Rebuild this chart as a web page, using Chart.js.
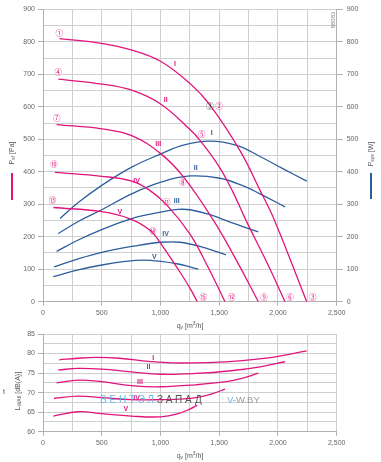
<!DOCTYPE html>
<html><head><meta charset="utf-8">
<script src="https://cdn.jsdelivr.net/npm/chart.js@4.4.0/dist/chart.umd.min.js"></script>
<style>
html,body{margin:0;padding:0;background:#fff;width:381px;height:462px;overflow:hidden;font-family:"Liberation Sans",Arial,sans-serif;}
canvas{position:absolute;left:0;}
#c1{top:0;}
#c2{top:326px;}
.t{position:absolute;color:#555;font-size:7px;line-height:8px;white-space:nowrap;}
.rot{transform:translate(-50%,-50%) rotate(-90deg);}
.ctr{transform:translate(-50%,-50%);}
sub{font-size:5px;vertical-align:-1px;}
sup{font-size:5px;vertical-align:3px;}
.bar{position:absolute;width:2px;}
</style></head><body>
<canvas id="c1" width="381" height="326" style="width:381px;height:326px"></canvas>
<canvas id="c2" width="381" height="136" style="width:381px;height:136px"></canvas>

<div class="t rot" style="left:12px;top:153px;">P<sub>sf</sub> [Pa]</div>
<div class="bar" style="left:11px;top:173px;height:27px;background:#e0157c"></div>
<div class="t rot" style="left:371px;top:154px;">P<sub>sys</sub> [W]</div>
<div class="bar" style="left:370px;top:173px;height:26px;background:#2d5f9e"></div>
<div class="t ctr" style="left:190px;top:325px;">q<sub>v</sub> [m<sup>3</sup>/h]</div>
<div class="t ctr" style="left:190px;top:455px;">q<sub>v</sub> [m<sup>3</sup>/h]</div>
<div class="t rot" style="left:18px;top:391px;">L<sub>WA6</sub> [dB(A)]</div>
<div class="t ctr" style="left:4px;top:392px;">t</div>
<div class="t rot" style="left:333px;top:20px;font-size:6px;color:#888;">88083</div>
<div class="t" style="left:100px;top:395px;font-size:10px;line-height:10px;letter-spacing:2.8px;"><span style="color:#6ab6ec">ВЕНТЭЛ</span><span style="color:#555">ЗАПАД</span></div>
<div class="t" style="left:227px;top:395px;font-size:9.5px;line-height:10px;"><span style="color:#6ab6ec">V</span><span style="color:#9a9a9a">-W.BY</span></div>

<script>
// ---------- data ----------
const xTickLabels = ['0','500','1,000','1,500','2,000','2,500'];
const curveNames = ['I','II','III','IV','V'];

// static pressure Psf [Pa] vs qv [m3/h]
const pI_q   = [140, 500, 750, 1000, 1250, 1420, 1677, 1847, 1970, 2245];
const pI_p   = [810, 795, 775, 740, 672, 606, 465, 343, 251, 0];
const pII_q  = [130, 500, 755, 1004, 1251, 1340, 1500, 1620, 1727, 1900, 2060];
const pII_p  = [685, 670, 651, 608, 530, 495, 415, 335, 251, 125, 0];
const pIII_q = [116, 500, 755, 1004, 1194, 1450, 1650, 1833];
const pIII_p = [545, 532, 511, 455, 385, 251, 125, 0];
const pIV_q  = [100, 500, 750, 900, 1053, 1251, 1400, 1549];
const pIV_p  = [398, 386, 372, 345, 298, 208, 110, 0];
const pV_q   = [88, 500, 740, 911, 1004, 1150, 1251, 1313];
const pV_p   = [290, 277, 255, 220, 178, 100, 42, 0];

// power Psys [W]
const wI_q   = [145, 300, 500, 755, 1004, 1194, 1421, 1649, 1847, 2045, 2245];
const wI_w   = [256, 305, 358, 414, 455, 482, 494, 481, 447, 409, 371];
const wII_q  = [130, 300, 500, 755, 1004, 1251, 1507, 1700, 1847, 2060];
const wII_w  = [210, 247, 283, 332, 368, 387, 380, 357, 332, 292];
const wIII_q = [116, 300, 500, 755, 1004, 1150, 1251, 1421, 1592, 1833];
const wIII_w = [155, 190, 222, 256, 276, 284, 283, 268, 245, 215];
const wIV_q  = [94, 300, 500, 755, 1004, 1166, 1336, 1558];
const wIV_w  = [107, 132, 152, 170, 183, 183, 170, 144];
const wV_q   = [88, 300, 500, 700, 854, 1004, 1150, 1251, 1322];
const wV_w   = [77, 98, 113, 124, 128, 124, 116, 107, 100];

// sound power LWA [dB(A)]
const sI_q   = [139, 300, 450, 650, 900, 1100, 1400, 1700, 1950, 2245];
const sI_l   = [78.4, 78.8, 79.0, 78.8, 78.0, 77.6, 77.7, 78.2, 79.0, 80.7];
const sII_q  = [130, 300, 500, 750, 1000, 1300, 1600, 1850, 2060];
const sII_l  = [75.8, 76.2, 76.0, 75.3, 74.7, 74.9, 75.6, 76.6, 77.9];
const sIII_q = [116, 300, 500, 750, 1000, 1300, 1560, 1700, 1833];
const sIII_l = [72.5, 73.2, 72.8, 71.8, 71.5, 72.0, 72.8, 73.7, 75.0];
const sIV_q  = [94, 300, 500, 750, 1000, 1200, 1350, 1450, 1549];
const sIV_l  = [68.5, 69.1, 68.7, 68.2, 68.2, 68.4, 69.0, 69.8, 70.9];
const sV_q   = [88, 300, 500, 750, 1000, 1150, 1250, 1313];
const sV_l   = [64.0, 65.1, 64.6, 64.0, 63.8, 64.6, 65.8, 66.8];

// annotation anchors (data units)
const pLabQ = [1124, 1044, 981, 797, 655];
const pLabP = [731, 622, 486, 370, 276];
const wLabQ = [1436, 1300, 1138, 1044, 948];
const wLabW = [518, 412, 309, 207, 138];
const sLabQ = [939, 897, 826, 797, 706];
const sLabL = [78.9, 76.6, 72.6, 68.6, 65.7];
const circTexts = ['①','④','⑦','⑩','⑬','②','⑤','⑧','⑪','⑭','⑮','⑫','⑨','⑥','③'];
const circQ = [139, 130, 116, 94, 80, 1498, 1351, 1189, 1053, 934, 1365, 1606, 1881, 2103, 2296];
const circP = [826, 705, 566, 422, 314, 603, 517, 368, 305, 217, 13, 13, 13, 13, 13];
const opText = '③', opQ = 1421, opP = 603;

// ---------- styling ----------
const MAG = '#e0157c', BLU = '#2d5f9e', GRID = '#cfcfcf', AX = '#b0b0b0', TXT = '#666';
const FONT = '"Liberation Sans", Arial, sans-serif';
const zip = (xs, ys) => xs.map((x, i) => ({x, y: ys[i]}));
const line = (data, color, axis) => ({data, borderColor: color, borderWidth: 1.3, pointRadius: 0,
  showLine: true, fill: false, tension: 0.4, yAxisID: axis});
const fmt = v => { const i = [0,500,1000,1500,2000,2500].indexOf(v); return i >= 0 ? xTickLabels[i] : ''; };

const labelPlugin = {
  id: 'lbl',
  afterDatasetsDraw(chart, args, opts) {
    const ctx = chart.ctx;
    ctx.save();
    ctx.textAlign = 'center'; ctx.textBaseline = 'middle';
    for (const L of opts.items) {
      ctx.fillStyle = L.c; ctx.font = L.f;
      ctx.fillText(L.t, chart.scales.x.getPixelForValue(L.x), chart.scales[L.a].getPixelForValue(L.y));
    }
    ctx.restore();
  }
};

function xScale(h) {
  return {type: 'linear', min: 0, max: 2500,
    ticks: {stepSize: 250, autoSkip: false, maxRotation: 0, callback: fmt, color: TXT, font: {size: 7, family: FONT}, padding: 3},
    grid: {color: GRID, tickLength: 4, tickColor: c => (c.tick && c.tick.value % 500 === 0) ? AX : 'rgba(0,0,0,0)'},
    border: {color: AX},
    afterFit: s => { s.height = h; }};
}

// ---------- top chart ----------
const romanF = 'bold 7px ' + FONT;
const circF = '7.5px "Noto Sans CJK JP", "DejaVu Sans", sans-serif';
const topItems = [];
curveNames.forEach((n, i) => {
  topItems.push({t: n, x: pLabQ[i], y: pLabP[i], a: 'y', c: MAG, f: romanF});
  topItems.push({t: n, x: wLabQ[i], y: wLabW[i], a: 'y', c: BLU, f: romanF});
});
circTexts.forEach((t, i) => topItems.push({t, x: circQ[i], y: circP[i], a: 'y', c: MAG, f: circF}));
topItems.push({t: opText, x: opQ, y: opP, a: 'y', c: '#333', f: circF});

new Chart(document.getElementById('c1'), {
  type: 'scatter',
  data: {datasets: [
    line(zip(pI_q, pI_p), MAG, 'y'), line(zip(pII_q, pII_p), MAG, 'y'), line(zip(pIII_q, pIII_p), MAG, 'y'),
    line(zip(pIV_q, pIV_p), MAG, 'y'), line(zip(pV_q, pV_p), MAG, 'y'),
    line(zip(wI_q, wI_w), BLU, 'y2'), line(zip(wII_q, wII_w), BLU, 'y2'), line(zip(wIII_q, wIII_w), BLU, 'y2'),
    line(zip(wIV_q, wIV_w), BLU, 'y2'), line(zip(wV_q, wV_w), BLU, 'y2')
  ]},
  options: {
    responsive: false, animation: false, devicePixelRatio: 1,
    layout: {padding: {top: 9.3, left: 0, right: 0, bottom: 0}},
    plugins: {legend: {display: false}, tooltip: {enabled: false}, lbl: {items: topItems}},
    scales: {
      x: xScale(24.3),
      y: {type: 'linear', position: 'left', min: 0, max: 900,
        ticks: {stepSize: 50, autoSkip: false, callback: v => v % 100 === 0 ? String(v) : '', color: TXT, font: {size: 7, family: FONT}, padding: 3},
        grid: {color: GRID, tickLength: 5, tickColor: c => (c.tick && c.tick.value % 100 === 0) ? AX : 'rgba(0,0,0,0)'},
        border: {color: AX},
        afterFit: s => { s.width = 43; }},
      y2: {type: 'linear', position: 'right', min: 0, max: 900,
        ticks: {stepSize: 50, autoSkip: false, callback: v => v % 100 === 0 ? String(v) : '', color: TXT, font: {size: 7, family: FONT}, padding: 4},
        grid: {drawOnChartArea: false, tickLength: 6, tickColor: c => (c.tick && c.tick.value % 100 === 0) ? AX : 'rgba(0,0,0,0)'},
        border: {color: AX},
        afterFit: s => { s.width = 44.3; }}
    }
  },
  plugins: [labelPlugin]
});

// ---------- bottom chart ----------
const botItems = curveNames.map((n, i) => ({t: n, x: sLabQ[i], y: sLabL[i], a: 'y', c: MAG, f: romanF}));
new Chart(document.getElementById('c2'), {
  type: 'scatter',
  data: {datasets: [
    line(zip(sI_q, sI_l), MAG, 'y'), line(zip(sII_q, sII_l), MAG, 'y'), line(zip(sIII_q, sIII_l), MAG, 'y'),
    line(zip(sIV_q, sIV_l), MAG, 'y'), line(zip(sV_q, sV_l), MAG, 'y')
  ]},
  options: {
    responsive: false, animation: false, devicePixelRatio: 1,
    layout: {padding: {top: 8, left: 0, right: 44.3, bottom: 0}},
    plugins: {legend: {display: false}, tooltip: {enabled: false}, lbl: {items: botItems}},
    scales: {
      x: xScale(30.3),
      y: {type: 'linear', position: 'left', min: 60, max: 85,
        ticks: {stepSize: 2.5, autoSkip: false, callback: v => v % 5 === 0 ? String(v) : '', color: TXT, font: {size: 7, family: FONT}, padding: 3},
        grid: {color: GRID, tickLength: 5, tickColor: c => (c.tick && c.tick.value % 5 === 0) ? AX : 'rgba(0,0,0,0)'},
        border: {color: AX},
        afterFit: s => { s.width = 43; }}
    }
  },
  plugins: [labelPlugin]
});
</script>
</body></html>
